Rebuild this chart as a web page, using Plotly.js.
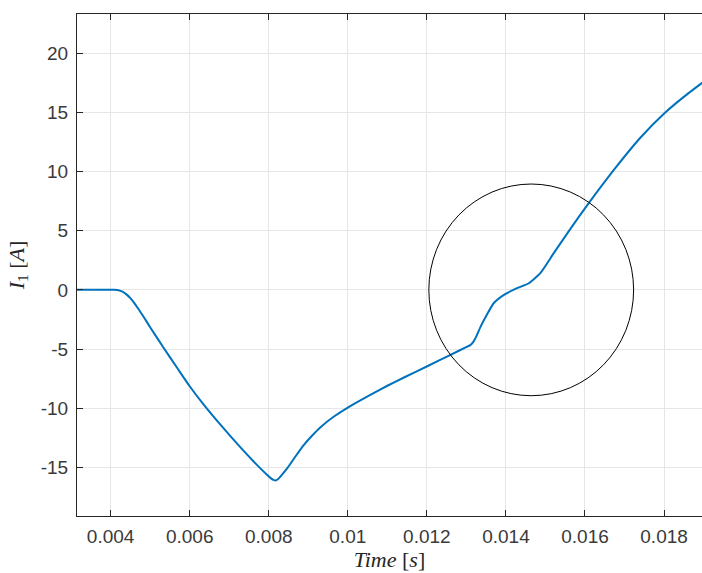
<!DOCTYPE html>
<html>
<head>
<meta charset="utf-8">
<script src="https://cdn.plot.ly/plotly-3.0.1.min.js"></script>
<style>html,body{margin:0;padding:0;background:#fff;}#chart{width:702px;height:573px;}</style>
</head>
<body>
<div id="chart"></div>
<script>
const timeS = [0.00315, 0.0041, 0.0042, 0.0043, 0.0044, 0.0045, 0.0046, 0.0047, 0.0048, 0.0049, 0.0050, 0.005348, 0.005686, 0.006005, 0.00636, 0.0068, 0.0072, 0.0076, 0.00795, 0.00805, 0.00812, 0.00817, 0.00823, 0.0083, 0.00847, 0.00868, 0.00889, 0.0091, 0.00931, 0.00965, 0.0100, 0.01057, 0.011, 0.01142, 0.01201, 0.01256, 0.01302, 0.0131, 0.01318, 0.01326, 0.01336, 0.01369, 0.01395, 0.01428, 0.01458, 0.01487, 0.01521, 0.01588, 0.01673, 0.0174, 0.01801, 0.0185, 0.01897];
const currentA = [0, 0, -0.03, -0.15, -0.38, -0.7, -1.12, -1.6, -2.1, -2.62, -3.15, -4.93, -6.6, -8.16, -9.71, -11.47, -12.99, -14.43, -15.6, -15.9, -16.05, -16.1, -16.0, -15.75, -15.06, -14.05, -13.09, -12.3, -11.6, -10.7, -9.94, -8.87, -8.1, -7.4, -6.45, -5.55, -4.8, -4.67, -4.37, -3.87, -3.1, -1.13, -0.42, 0.14, 0.56, 1.41, 3.1, 6.33, 10.13, 12.85, 14.92, 16.3, 17.5];
const xTickVals = [0.004, 0.006, 0.008, 0.01, 0.012, 0.014, 0.016, 0.018];
const xTickText = ["0.004", "0.006", "0.008", "0.01", "0.012", "0.014", "0.016", "0.018"];
const yTickVals = [-15, -10, -5, 0, 5, 10, 15, 20];
const yTickText = ["-15", "-10", "-5", "0", "5", "10", "15", "20"];
const circleCenter = [0.01464, 0];
const circleRadius = [0.00259, 8.94];

const tickFont = {family: "Liberation Sans, Arial, sans-serif", size: 19, color: "#3a3a3a"};
const titleFont = {family: "Liberation Serif, DejaVu Serif, serif", size: 22, color: "#262626"};

const trace = {
  x: timeS, y: currentA, type: "scatter", mode: "lines",
  line: {color: "#0072BD", width: 2, shape: "spline", smoothing: 0.5},
  hoverinfo: "skip"
};

const layout = {
  width: 702, height: 573,
  margin: {l: 76.5, r: 0, t: 14, b: 57, pad: 0},
  paper_bgcolor: "#fff", plot_bgcolor: "#fff",
  showlegend: false,
  xaxis: {
    range: [0.00315, 0.01896], tickvals: xTickVals, ticktext: xTickText,
    showgrid: true, gridcolor: "#e6e6e6", gridwidth: 1, zeroline: false,
    showline: true, linecolor: "#262626", linewidth: 1, mirror: "ticks",
    ticks: "inside", ticklen: 6, tickcolor: "#262626", tickfont: tickFont,
    ticklabelstandoff: 3,
    title: {text: "<i>Time</i> [<i>s</i>]", font: titleFont, standoff: 5}
  },
  yaxis: {
    range: [-19.1, 23.3], tickvals: yTickVals, ticktext: yTickText,
    showgrid: true, gridcolor: "#e6e6e6", gridwidth: 1, zeroline: false,
    showline: true, linecolor: "#262626", linewidth: 1, mirror: false,
    ticks: "inside", ticklen: 6, tickcolor: "#262626", tickfont: tickFont,
    ticklabelstandoff: 4,
    title: {text: "<i>I</i><sub>1</sub> [<i>A</i>]", font: titleFont, standoff: 10}
  },
  shapes: [{
    type: "circle", xref: "x", yref: "y",
    x0: circleCenter[0] - circleRadius[0], x1: circleCenter[0] + circleRadius[0],
    y0: circleCenter[1] - circleRadius[1], y1: circleCenter[1] + circleRadius[1],
    line: {color: "#000", width: 1}
  }]
};

Plotly.newPlot("chart", [trace], layout, {staticPlot: true, displayModeBar: false});
</script>
</body>
</html>
